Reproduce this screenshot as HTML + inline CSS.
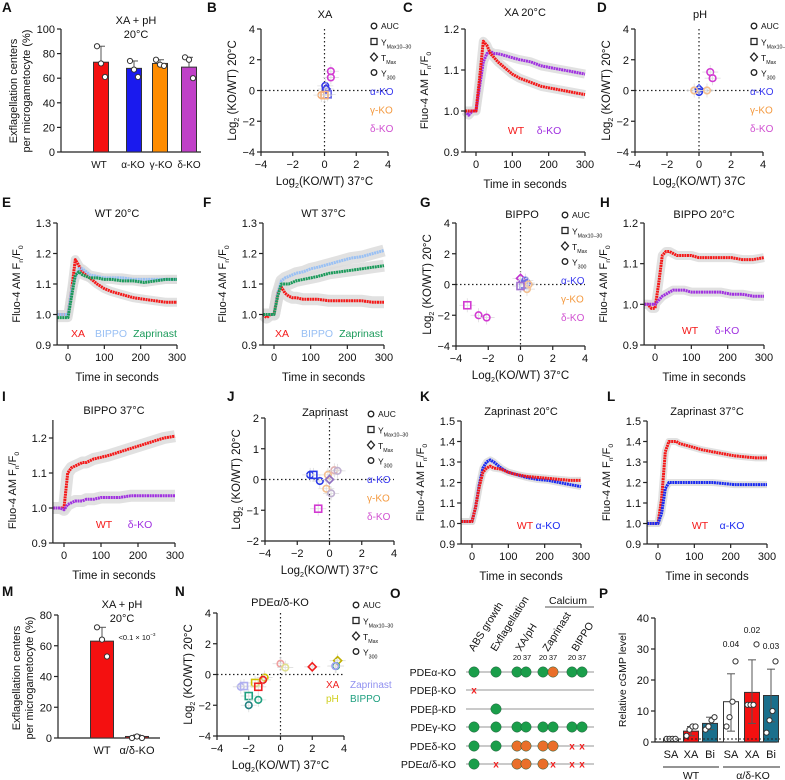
<!DOCTYPE html>
<html><head><meta charset="utf-8"><style>
body{margin:0;background:#fff}
svg{display:block;font-family:"Liberation Sans",sans-serif}
</style></head><body>
<svg id="fig" width="785" height="780" viewBox="0 0 785 780" xmlns="http://www.w3.org/2000/svg"></svg>
<script>
// ---------- data ----------
const times=[-30,-20,-10,0,10,20,30,40,50,60,80,100,120,150,180,210,240,270,300];
const cWT=[1.0,1.0,1.0,1.0,1.08,1.17,1.16,1.14,1.13,1.12,1.105,1.09,1.08,1.07,1.06,1.055,1.05,1.045,1.04];
const cDelta=[1.0,0.99,1.0,1.0,1.06,1.12,1.14,1.145,1.14,1.14,1.135,1.13,1.125,1.12,1.11,1.105,1.10,1.095,1.09];
const eXA=[1.0,1.0,1.0,1.0,1.08,1.18,1.16,1.14,1.13,1.12,1.1,1.085,1.075,1.065,1.055,1.05,1.045,1.04,1.04];
const eBIPPO=[1.0,1.0,1.0,1.0,1.08,1.12,1.15,1.15,1.14,1.13,1.125,1.12,1.12,1.12,1.115,1.115,1.115,1.115,1.115];
const eZap=[0.99,0.99,0.99,0.99,1.06,1.13,1.14,1.13,1.125,1.12,1.12,1.115,1.115,1.11,1.11,1.105,1.11,1.115,1.115];
const fXA=[1.0,0.99,1.0,1.0,1.07,1.09,1.07,1.06,1.055,1.055,1.05,1.05,1.05,1.045,1.045,1.045,1.045,1.04,1.04];
const fBIPPO=[1.0,1.0,1.0,1.0,1.07,1.11,1.12,1.125,1.13,1.135,1.14,1.15,1.155,1.165,1.175,1.185,1.19,1.2,1.21];
const fZap=[1.0,1.0,1.0,1.0,1.06,1.10,1.10,1.10,1.105,1.11,1.115,1.12,1.125,1.135,1.14,1.145,1.15,1.155,1.16];
const hWT=[1.0,1.0,0.99,0.99,1.05,1.12,1.13,1.13,1.125,1.12,1.12,1.12,1.115,1.115,1.115,1.115,1.11,1.11,1.115];
const hDelta=[1.0,1.0,1.0,1.0,1.01,1.02,1.025,1.03,1.035,1.035,1.035,1.03,1.03,1.03,1.03,1.025,1.025,1.02,1.02];
const iWT=[1.0,1.0,1.0,1.0,1.1,1.115,1.12,1.125,1.13,1.13,1.14,1.145,1.15,1.16,1.17,1.18,1.19,1.2,1.205];
const iDelta=[1.0,1.0,1.0,0.995,1.01,1.015,1.02,1.02,1.02,1.025,1.025,1.03,1.03,1.03,1.035,1.035,1.035,1.035,1.035];
const kWT=[1.01,1.01,1.01,1.01,1.08,1.18,1.25,1.27,1.28,1.27,1.265,1.25,1.24,1.23,1.225,1.22,1.215,1.21,1.21];
const kAlpha=[1.01,1.01,1.01,1.01,1.08,1.19,1.27,1.30,1.31,1.30,1.27,1.25,1.24,1.225,1.215,1.21,1.2,1.19,1.18];
const lWT=[1.0,1.0,1.0,1.0,1.12,1.35,1.40,1.40,1.40,1.39,1.38,1.37,1.36,1.35,1.34,1.33,1.325,1.32,1.32];
const lAlpha=[1.0,1.0,1.0,1.0,1.05,1.17,1.2,1.2,1.2,1.2,1.2,1.2,1.2,1.2,1.195,1.19,1.19,1.19,1.19];

const aCats=["WT","α-KO","γ-KO","δ-KO"];
const aMeans=[73,68,72,69];
const aErr=[86,74,75,77];
const aPts=[[86,72,61],[74,67,61],[75,71,70],[77,75,60]];
const mCats=["WT","α/δ-KO"];
const mMeans=[63,1];
const mErr=[72,2];
const mPts=[[72,64,53],[0,1,0]];
const pCats=["SA","XA","Bi","SA","XA","Bi"];
const pMeans=[1,3.5,6,13,16,15];
const pErrHi=[1,5,8,22,26.5,23.5];
const pErrLo=[1,2,4,3.5,6,6.5];
const pPts=[[1,1,1,1],[2,4,5,5],[4,5,7,8],[5,8,13,26],[12,12,12,31.5],[3,7,10,26]];
const pP=["","","","0.04","0.02","0.03"];

// scatter points: [x, y, shape, colour]
const bPts=[[0.4,1.25,"o","#d23ad2"],[0.4,0.85,"o","#d23ad2"],[0.05,0.3,"o","#3a3ae8"],[0.1,0.1,"d","#3a3ae8"],[0.2,-0.25,"s","#6a6ae8"],[-0.2,-0.3,"o","#f4b07a"],[0,-0.3,"s","#f4b07a"]];
const dPts=[[0.7,1.2,"o","#d23ad2"],[0.85,0.8,"o","#d23ad2"],[0,0.1,"d","#2a3ae8"],[0,-0.1,"o","#2a3ae8"],[-0.3,0,"o","#f4c090"],[0.5,0,"o","#f4c090"]];
const gPts=[[-3.3,-1.35,"s","#d23ad2"],[-2.6,-2,"o","#d23ad2"],[-2.1,-2.15,"o","#d23ad2"],[0,0.4,"d","#c030d0"],[0.3,0.25,"o","#6a6ae8"],[0.2,0,"s","#6a6ae8"],[0.4,0.1,"o","#6a6ae8"],[0.5,0,"o","#f4c090"],[0.4,-0.3,"o","#f4c090"],[0,-0.1,"s","#a070d0"]];
const jPts=[[-1.2,0.15,"o","#2a3ae8"],[-1,0.15,"s","#2a3ae8"],[-0.6,-0.05,"o","#2a3ae8"],[-0.7,-0.95,"s","#d23ad2"],[-0.1,0.15,"o","#f4c090"],[-0.2,-0.3,"o","#f4c090"],[0.3,0.3,"o","#e0b0b0"],[0.5,0.28,"o","#c0b0d0"],[0,0,"d","#9070c0"],[0.1,-0.45,"o","#c0b0d0"]];
const nPts=[[0,0.7,"o","#f0a0a0"],[0.3,0.45,"o","#e0e090"],[2,0.5,"d","#f02020"],[3.6,0.9,"d","#c0b000"],[3.5,0.55,"o","#20a080"],[3.45,0.55,"o","#a0a0f0"],[-1,-0.2,"o","#d0c000"],[-1.1,-0.35,"o","#f02020"],[-1.6,-0.55,"s","#d0c000"],[-1.4,-0.8,"s","#f02020"],[-2.5,-0.8,"o","#b0b0f0"],[-2.3,-0.75,"s","#b0b0f0"],[-2,-1.4,"s","#20a080"],[-2,-2,"o","#208080"],[-1.4,-1.65,"o","#20a080"]];

const oCols=["ABS growth","Exflagellation","XA/pH","Zaprinast","BIPPO"];
const oRows=["PDEα-KO","PDEβ-KO","PDEβ-KD","PDEγ-KO","PDEδ-KO","PDEα/δ-KO"];
const oStatus=[["g","g","g","g","g","o","g","g"],["x","","","","","","",""],["","g","","","","","",""],["g","g","g","g","g","g","g","g"],["g","g","o","o","o","o","x","x"],["g","x","o","o","o","x","x","x"]];

// ---------- helpers ----------
const NS="http://www.w3.org/2000/svg";
const svg=document.getElementById("fig");
function el(tag,attrs,name,parent){
  const e=document.createElementNS(NS,tag);
  for(const k in attrs) e.setAttribute(k,attrs[k]);
  
  
  (parent||svg).appendChild(e);
  return e;
}
function txt(x,y,s,name,o){
  o=o||{};
  const fs=o.fs||11;
  const t=el("text",{x:x,y:y,"font-size":fs,"text-anchor":o.anchor||"middle",fill:o.fill||"#111","font-weight":o.bold?"bold":"normal"},name);
  if(o.rot!==undefined) t.setAttribute("transform","rotate("+o.rot+" "+x+" "+y+")");
  const parts=s.split(/([_^])\{([^}]*)\}/);
  let shift=0;
  for(let i=0;i<parts.length;i++){
    const p=parts[i];
    if(i%3===0){
      if(!p) continue;
      const ts=document.createElementNS(NS,"tspan");
      ts.textContent=p;
      if(shift){ts.setAttribute("dy",-shift);shift=0;}
      t.appendChild(ts);
    } else if(i%3===1){
      const ts=document.createElementNS(NS,"tspan");
      ts.textContent=parts[i+1];
      ts.setAttribute("font-size",fs*0.62);
      const d=p==="_"?3:-4;
      ts.setAttribute("dy",d-shift);
      shift=d;
      t.appendChild(ts);
      i++;
    }
  }
  return t;
}
function line(x1,y1,x2,y2,name,st,w,dash){
  const l=el("line",{x1:x1,y1:y1,x2:x2,y2:y2,stroke:st||"#222","stroke-width":w||1.2},name);
  if(dash) l.setAttribute("stroke-dasharray",dash);
  return l;
}
function letter(x,y,s){ txt(x,y,s,"panel-label-"+s.toLowerCase(),{fs:13.5,bold:true,anchor:"start"}); }

// ---------- trace panel ----------
function trace(c){
  const sx=v=>c.x0+(v-0)/300*(c.x300-c.x0);
  const sy=v=>c.yb+(v-c.vb)/(c.vt-c.vb)*(c.yt-c.yb);
  const xl=sx(-30);
  c.series.forEach((s,si)=>{
    const pts=times.map((t,i)=>sx(t).toFixed(1)+","+sy(s.v[i]).toFixed(1)).join(" ");
    el("polyline",{points:pts,fill:"none",stroke:"#dcdcdc","stroke-width":c.band||9,"stroke-linejoin":"round",opacity:0.85},c.id+"-band-"+si);
  });
  c.series.forEach((s,si)=>{
    const pts=times.map((t,i)=>sx(t).toFixed(1)+","+sy(s.v[i]).toFixed(1)).join(" ");
    el("polyline",{points:pts,fill:"none",stroke:s.col,"stroke-width":3,"stroke-linejoin":"round","stroke-dasharray":"2 0.6"},c.id+"-series-"+s.name);
  });
  line(xl,c.ytop||c.yt,xl,c.yb,c.id+"-y-axis");
  line(xl,c.yb,sx(300),c.yb,c.id+"-x-axis");
  c.yticks.forEach(v=>{line(xl-4,sy(v),xl,sy(v),c.id+"-y-tick");txt(xl-6,sy(v)+4,v.toFixed(1),c.id+"-y-tick-label",{anchor:"end",fs:11});});
  [0,100,200,300].forEach(v=>{line(sx(v),c.yb,sx(v),c.yb+4,c.id+"-x-tick");txt(sx(v),c.yb+16,String(v),c.id+"-x-tick-label",{fs:11});});
  txt((xl+sx(300))/2,c.yb+36,"Time in seconds",c.id+"-x-axis-title",{fs:11.5});
  txt(xl-37,(c.yt+c.yb)/2,"Fluo-4 AM F_{n}/F_{0}",c.id+"-y-axis-title",{fs:11,rot:-90});
  txt(c.tx||(xl+sx(300))/2,c.ty,c.title,c.id+"-title",{fs:11});
  c.series.forEach(s=>{ if(s.lx) txt(s.lx,c.ly,s.name,c.id+"-legend-"+s.name,{fill:s.col,fs:10.5}); });
}
// ---------- quadrant scatter ----------
function quad(c){
  const sx=v=>c.xa+(v+4)/8*(c.xb-c.xa);
  const sy=v=>c.yb+(v-c.vmin)/(c.vmax-c.vmin)*(c.yt-c.yb);
  line(c.xa,c.yt,c.xa,c.yb,c.id+"-y-axis");
  line(c.xa,c.yb,c.xb,c.yb,c.id+"-x-axis");
  line(sx(0),c.yt,sx(0),c.yb,c.id+"-zero-vline","#222",1.2,"1.5 2.5");
  line(c.xa,sy(0),c.xb,sy(0),c.id+"-zero-hline","#222",1.2,"1.5 2.5");
  c.yt_ticks.forEach(v=>{line(c.xa-4,sy(v),c.xa,sy(v),c.id+"-y-tick");txt(c.xa-6,sy(v)+4,v<0?"−"+(-v):String(v),c.id+"-y-tick-label",{anchor:"end",fs:11});});
  [-4,-2,0,2,4].forEach(v=>{line(sx(v),c.yb,sx(v),c.yb+4,c.id+"-x-tick");txt(sx(v),c.yb+16,v<0?"−"+(-v):String(v),c.id+"-x-tick-label",{fs:11});});
  txt((c.xa+c.xb)/2,c.yb+33,"Log_{2}(KO/WT) "+(c.xt||"37°C"),c.id+"-x-axis-title",{fs:11.5});
  txt(c.xa-25,(c.yt+c.yb)/2,"Log_{2} (KO/WT) 20°C",c.id+"-y-axis-title",{fs:11.5,rot:-90});
  txt(c.tx,c.ty,c.title,c.id+"-title",{fs:11});
  c.pts.forEach((p,i)=>{
    const x=sx(p[0]),y=sy(p[1]);
    line(x-8,y,x+8,y,c.id+"-errbar-x","#ddd",0.8);
    line(x,y-7,x,y+7,c.id+"-errbar-y","#ddd",0.8);
    if(p[2]==="o") el("circle",{cx:x,cy:y,r:3.3,fill:"none",stroke:p[3],"stroke-width":1.6},c.id+"-point-circle");
    else if(p[2]==="s") el("rect",{x:x-3.5,y:y-3.5,width:7,height:7,fill:"none",stroke:p[3],"stroke-width":1.6},c.id+"-point-square");
    else el("polygon",{points:`${x},${y-4} ${x+4},${y} ${x},${y+4} ${x-4},${y}`,fill:"none",stroke:p[3],"stroke-width":1.6},c.id+"-point-diamond");
  });
  const lx=c.lx, ly=c.ly, gap=c.lg||15.5;
  const syms=["o","s","d","o"], labs=["AUC","Y_{Max10–30}","T_{Max}","Y_{300}"];
  syms.forEach((s,i)=>{
    const y=ly+i*gap;
    if(s==="o") el("circle",{cx:lx,cy:y-3,r:2.8,fill:"none",stroke:"#222","stroke-width":1.3},c.id+"-legend-symbol");
    else if(s==="s") el("rect",{x:lx-3,y:y-6,width:6,height:6,fill:"none",stroke:"#222","stroke-width":1.3},c.id+"-legend-symbol");
    else el("polygon",{points:`${lx},${y-7} ${lx+3.5},${y-3} ${lx},${y+1} ${lx-3.5},${y-3}`,fill:"none",stroke:"#222","stroke-width":1.3},c.id+"-legend-symbol");
    txt(lx+7,y+(i===0?0:1),labs[i],c.id+"-legend-label",{anchor:"start",fs:8.5});
  });
  (c.geno||[["α-KO","#3a3af0"],["γ-KO","#f49a40"],["δ-KO","#d050d0"]]).forEach((g,i)=>{
    const gx=g[2]!==undefined?g[2]:lx-4;
    const gy=g[3]!==undefined?g[3]:ly+4*gap+4+i*gap*1.2;
    txt(gx,gy,g[0],c.id+"-legend-genotype",{anchor:"start",fill:g[1],fs:10});
  });
}
// ---------- bar chart ----------
function bars(c){
  const sy=v=>c.yb+v/c.vmax*(c.yt-c.yb);
  line(c.xa,c.yt,c.xa,c.yb,c.id+"-y-axis");
  line(c.xa,c.yb,c.xe,c.yb,c.id+"-x-axis");
  c.ticks.forEach(v=>{line(c.xa-4,sy(v),c.xa,sy(v),c.id+"-y-tick");txt(c.xa-6,sy(v)+4,String(v),c.id+"-y-tick-label",{anchor:"end",fs:11});});
  c.cats.forEach((cat,i)=>{
    const x=c.xs[i],w=c.w;
    el("rect",{x:x-w/2,y:sy(c.means[i]),width:w,height:sy(0)-sy(c.means[i]),fill:c.cols[i],stroke:"#333","stroke-width":1},c.id+"-bar-"+i);
    const lo=c.lo?c.lo[i]:c.means[i];
    line(x,sy(c.hi[i]),x,sy(lo),c.id+"-errbar","#555",1);
    line(x-4,sy(c.hi[i]),x+4,sy(c.hi[i]),c.id+"-errcap","#555",1);
    if(c.lo) line(x-4,sy(lo),x+4,sy(lo),c.id+"-errcap","#555",1);
    c.pts[i].forEach((p,j)=>{
      const px=x+(j-(c.pts[i].length-1)/2)*c.sp;
      el("circle",{cx:px,cy:sy(p),r:2.6,fill:"#fff",stroke:"#333","stroke-width":1},c.id+"-data-point");
    });
    txt(c.lxs?c.lxs[i]:x,c.yb+16,cat,c.id+"-x-tick-label",{fs:c.lfs||11});
  });
}

// ---------- panels ----------
letter(2,12,"A");
bars({id:"a",xa:61,xe:201,yt:29,yb:152,vmax:100,ticks:[0,20,40,60,80,100],cats:aCats,means:aMeans,hi:aErr,pts:aPts,xs:[101,134,160,189],lxs:[99,133,161,189],lfs:10,w:15,sp:4,cols:["#f41010","#1a1aee","#ff8c00","#c040c8"]});
txt(136,24,"XA + pH","a-title-1",{fs:11});
txt(136,38,"20°C","a-title-2",{fs:11});
txt(17,91,"Exflagellation centers","a-y-axis-title-1",{fs:11,rot:-90});
txt(30,91,"per microgametocyte (%)","a-y-axis-title-2",{fs:11,rot:-90});

letter(207,12,"B");
quad({id:"b",xa:261,xb:388,yt:29,yb:152,vmin:-4,vmax:4,yt_ticks:[-4,-2,0,2,4],pts:bPts,title:"XA",tx:325,ty:18,lx:374,ly:29});

letter(403,12,"C");
trace({id:"c",x0:476,x300:585,yt:29,yb:152,vt:1.2,vb:0.9,yticks:[0.9,1.0,1.1,1.2],title:"XA 20°C",ty:16,ly:134,
  series:[{name:"δ-KO",v:cDelta,col:"#a030e0",lx:549},{name:"WT",v:cWT,col:"#f41818",lx:516}]});

letter(597,12,"D");
quad({id:"d",xa:635,xb:763,yt:29,yb:152,vmin:-4,vmax:4,yt_ticks:[-4,-2,0,2,4],pts:dPts,title:"pH",tx:700,ty:18,lx:754,ly:29,xt:"37C"});

letter(2,207,"E");
trace({id:"e",x0:68,x300:177,yt:223,yb:345,vt:1.3,vb:0.9,yticks:[0.9,1.0,1.1,1.2,1.3],title:"WT 20°C",ty:217,ly:337,
  series:[{name:"XA",v:eXA,col:"#f41818",lx:78},{name:"BIPPO",v:eBIPPO,col:"#99c0f4",lx:111},{name:"Zaprinast",v:eZap,col:"#1a9a5a",lx:155}]});

letter(203,207,"F");
trace({id:"f",x0:274,x300:384,yt:223,yb:345,vt:1.3,vb:0.9,yticks:[0.9,1.0,1.1,1.2,1.3],title:"WT 37°C",ty:217,ly:337,band:12,
  series:[{name:"XA",v:fXA,col:"#f41818",lx:282},{name:"BIPPO",v:fBIPPO,col:"#99c0f4",lx:317},{name:"Zaprinast",v:fZap,col:"#1a9a5a",lx:361}]});

letter(420,207,"G");
quad({id:"g",xa:456,xb:585,yt:223,yb:346,vmin:-4,vmax:4,yt_ticks:[-4,-2,0,2,4],pts:gPts,title:"BIPPO",tx:522,ty:218,lx:565,ly:218});

letter(600,207,"H");
trace({id:"h",x0:655,x300:764,yt:223,yb:345,vt:1.2,vb:0.9,yticks:[0.9,1.0,1.1,1.2],title:"BIPPO 20°C",ty:218,ly:334,
  series:[{name:"WT",v:hWT,col:"#f41818",lx:690},{name:"δ-KO",v:hDelta,col:"#a030e0",lx:727}]});

letter(2,401,"I");
trace({id:"i",x0:64,x300:175,yt:438,yb:543,ytop:420,vt:1.2,vb:0.9,yticks:[0.9,1.0,1.1,1.2],title:"BIPPO 37°C",ty:414,ly:528,band:12,
  series:[{name:"WT",v:iWT,col:"#f41818",lx:104},{name:"δ-KO",v:iDelta,col:"#a030e0",lx:140}]});

letter(227,401,"J");
quad({id:"j",xa:265,xb:394,yt:418,yb:541,vmin:-2,vmax:2,yt_ticks:[-2,-1,0,1,2],pts:jPts,title:"Zaprinast",tx:325,ty:416,lx:371,ly:417});

letter(420,401,"K");
trace({id:"k",x0:472,x300:581,yt:421,yb:544,vt:1.5,vb:0.9,yticks:[0.9,1.0,1.1,1.2,1.3,1.4,1.5],title:"Zaprinast 20°C",ty:415,ly:529,band:7,
  series:[{name:"α-KO",v:kAlpha,col:"#1a2af0",lx:548},{name:"WT",v:kWT,col:"#f41818",lx:525}]});

letter(607,401,"L");
trace({id:"l",x0:658,x300:767,yt:421,yb:544,vt:1.5,vb:0.9,yticks:[0.9,1.0,1.1,1.2,1.3,1.4,1.5],title:"Zaprinast 37°C",ty:415,ly:529,band:7,
  series:[{name:"WT",v:lWT,col:"#f41818",lx:700},{name:"α-KO",v:lAlpha,col:"#1a2af0",lx:732}]});

letter(2,596,"M");
bars({id:"m",xa:58,xe:160,yt:615,yb:738,vmax:80,ticks:[0,20,40,60,80],cats:mCats,means:mMeans,hi:mErr,pts:mPts,xs:[102,137],w:23,sp:5,cols:["#f41010","#f41010"]});
txt(122,608,"XA + pH","m-title-1",{fs:11});
txt(122,622,"20°C","m-title-2",{fs:11});
txt(137,640,"<0.1 × 10^{−3}","m-p-value",{fs:7.5});
txt(20,678,"Exflagellation centers","m-y-axis-title-1",{fs:11,rot:-90});
txt(33,678,"per microgametocyte (%)","m-y-axis-title-2",{fs:11,rot:-90});

letter(175,596,"N");
quad({id:"n",xa:217,xb:344,yt:613,yb:736,vmin:-4,vmax:4,yt_ticks:[-4,-2,0,2,4],pts:nPts,title:"PDEα/δ-KO",tx:280,ty:606,lx:356,ly:608,
  geno:[["XA","#f02020",326,688],["Zaprinast","#9090f0",350,688],["pH","#d0d020",326,702],["BIPPO","#20a080",350,702]]});

// Panel O
letter(390,598,"O");
const oColX=[474,496,517,526,543,553,572,582];
const oHeadX=[474,496,521,548,577];
oCols.forEach((h,i)=>txt(oHeadX[i],652,h,"o-column-header",{anchor:"start",fs:10.5,rot:-58}));
txt(568,604,"Calcium","o-calcium-label",{fs:10.5});
line(545,607,594,607,"o-calcium-bracket","#555",1);
[517,543,572].forEach(x=>{txt(x,660,"20","o-temp-20",{fs:7.5});txt(x+10,660,"37","o-temp-37",{fs:7.5});});
const oRowY=[672,690,709,727,746,764];
oRows.forEach((r,ri)=>{
  const y=oRowY[ri];
  txt(456,y+4,r,"o-row-label",{anchor:"end",fs:10.5});
  line(466,y,594,y,"o-row-line","#aaa",1.3);
  oStatus[ri].forEach((s,ci)=>{
    const x=oColX[ci];
    if(s==="g"||s==="o") el("circle",{cx:x,cy:y,r:5.2,fill:s==="g"?"#1a9e4a":"#ea6f2a",stroke:"#1f5f3a","stroke-width":0.5},"o-status-dot");
    else if(s==="x") txt(x,y+3.5,"x","o-status-fail",{fs:10,fill:"#f02020",bold:true});
  });
});

// Panel P
letter(599,598,"P");
bars({id:"p",xa:655,xe:777,yt:618,yb:742,vmax:40,ticks:[0,10,20,30,40],cats:pCats,means:pMeans,hi:pErrHi,lo:pErrLo,pts:pPts,xs:[671,691,710,731,752,771],w:15,sp:3,cols:["#fff","#f41010","#1a6f8c","#fff","#f41010","#1a6f8c"]});
line(655,739,780,739,"p-baseline-dotted","#222",1,"2 2");
const pX=[671,691,710,731,752,771], pY=[0,0,0,647,633,649];
pP.forEach((s,i)=>{ if(s) txt(pX[i],pY[i],s,"p-p-value",{fs:8.5}); });
line(663,767,719,767,"p-group-line-wt","#555",1.3);
line(723,767,780,767,"p-group-line-ko","#555",1.3);
txt(691,779,"WT","p-group-wt",{fs:10.5});
txt(753,779,"α/δ-KO","p-group-ko",{fs:10.5});
txt(626,680,"Relative cGMP level","p-y-axis-title",{fs:10.5,rot:-90});
</script>
</body></html>
